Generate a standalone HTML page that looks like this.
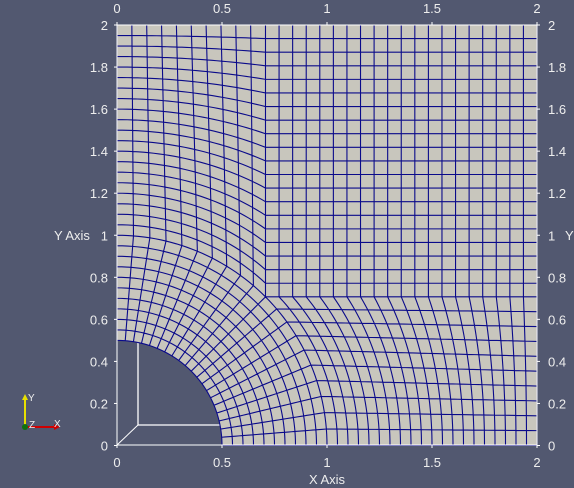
<!DOCTYPE html>
<html><head><meta charset="utf-8"><style>
html,body{margin:0;padding:0;background:#525870;width:574px;height:488px;overflow:hidden}
svg{display:block}
text{font-family:"Liberation Sans",sans-serif;font-size:13px;fill:#eeeeee}
</style></head><body>
<svg id="c" width="574" height="488">
<g id="back">
<polyline points="138,338 138,425 222,425" fill="none" stroke="#fff" stroke-width="1.3"/>
<line x1="117" y1="445" x2="138" y2="425" stroke="#fff" stroke-width="1"/>
</g>
<path id="plate" fill="#c8c6bd"/>
<g id="mesh" fill="none" stroke="#0a0a8a" stroke-width="1.1"></g>
<rect x="117" y="25" width="420" height="420" fill="none" stroke="#fff" stroke-width="1"/>
<g id="ticks" stroke="#fff" stroke-width="1"></g>
<g id="labels"></g>
<text x="327" y="484" text-anchor="middle">X Axis</text>
<text x="54" y="240">Y Axis</text>
<text x="565" y="240">Y</text>
<g>
<line x1="25" y1="427" x2="25" y2="398" stroke="#e8e000" stroke-width="2"/>
<polygon points="22,400 28,400 25,394" fill="#e8e000"/>
<line x1="28" y1="427" x2="56" y2="427" stroke="#d00000" stroke-width="2"/>
<polygon points="54,424 54,430 60,427" fill="#d00000"/>
<circle cx="25" cy="427" r="3" fill="#107010"/>
<text x="28" y="401" style="font-size:10px">Y</text>
<text x="29" y="428" style="font-size:10px">Z</text>
<text x="54" y="427" style="font-size:10px">X</text>
</g>
</svg>
<script>
const xTicks=[0,0.5,1,1.5,2];
const xTickLabels=["0","0.5","1","1.5","2"];
const yTicks=[0,0.2,0.4,0.6,0.8,1,1.2,1.4,1.6,1.8,2];
const yTickLabels=["0","0.2","0.4","0.6","0.8","1","1.2","1.4","1.6","1.8","2"];
const holeRadius=0.5;
const outerRadius=1;
const blockCells=[[10,10],[10,10],[20,10],[20,20],[10,20]];

const NS="http://www.w3.org/2000/svg";
const X=x=>117+210*x, Y=y=>445.5-210.25*y;
const s2=Math.SQRT1_2;
const v=[[0.5,0],[1,0],[2,0],[2,s2],[s2,s2],[holeRadius*s2,holeRadius*s2],[2,2],[s2,2],[0,2],[0,outerRadius],[0,holeRadius]];
const line=(a,b)=>t=>[a[0]+(b[0]-a[0])*t,a[1]+(b[1]-a[1])*t];
const arc=(r,a0,a1)=>t=>{const a=a0+(a1-a0)*t;return [r*Math.cos(a),r*Math.sin(a)]};
const q=Math.PI/4,h=Math.PI/2;
// blocks: corners P00,P10,P01,P11, bottom,top,left,right
const blocks=[
 [v[5],v[4],v[10],v[9], line(v[5],v[4]),line(v[10],v[9]),arc(holeRadius,q,h),arc(outerRadius,q,h)],
 [v[0],v[1],v[5],v[4], line(v[0],v[1]),line(v[5],v[4]),arc(holeRadius,0,q),arc(outerRadius,0,q)],
 [v[1],v[2],v[4],v[3], line(v[1],v[2]),line(v[4],v[3]),arc(outerRadius,0,q),line(v[2],v[3])],
 [v[4],v[3],v[7],v[6], line(v[4],v[3]),line(v[7],v[6]),line(v[4],v[7]),line(v[3],v[6])],
 [v[9],v[4],v[8],v[7], arc(outerRadius,h,q),line(v[8],v[7]),line(v[9],v[8]),line(v[4],v[7])]
];
function tfi(b,u,w){
 const [P00,P10,P01,P11,B,T,L,R]=b;const bb=B(u),tt=T(u),ll=L(w),rr=R(w);const o=[];
 for(let k=0;k<2;k++)o[k]=(1-w)*bb[k]+w*tt[k]+(1-u)*ll[k]+u*rr[k]-((1-u)*(1-w)*P00[k]+u*(1-w)*P10[k]+(1-u)*w*P01[k]+u*w*P11[k]);
 return o;
}
const mesh=document.getElementById('mesh');
let d="";
blocks.forEach((b,bi)=>{
 const [nu,nv]=blockCells[bi];const S=30;
 for(let i=0;i<=nu;i++){const u=i/nu;for(let s=0;s<=S;s++){const p=tfi(b,u,s/S);d+=(s?"L":"M")+X(p[0]).toFixed(2)+" "+Y(p[1]).toFixed(2);}}
 for(let j=0;j<=nv;j++){const w=j/nv;for(let s=0;s<=S;s++){const p=tfi(b,s/S,w);d+=(s?"L":"M")+X(p[0]).toFixed(2)+" "+Y(p[1]).toFixed(2);}}
});
const mp=document.createElementNS(NS,'path');mp.setAttribute('d',d);


mesh.appendChild(mp);
// plate
const rpx=X(holeRadius)-X(0);
document.getElementById('plate').setAttribute('d',`M${X(holeRadius)} ${Y(0)} L${X(2)} ${Y(0)} L${X(2)} ${Y(2)} L${X(0)} ${Y(2)} L${X(0)} ${Y(holeRadius)} A${rpx} ${Y(0)-Y(holeRadius)} 0 0 1 ${X(holeRadius)} ${Y(0)} Z`);
const tk=document.getElementById('ticks'),lb=document.getElementById('labels');
function addText(x,y,s,anchor,name){const t=document.createElementNS(NS,'text');t.setAttribute('x',x);t.setAttribute('y',y);t.setAttribute('text-anchor',anchor);t.textContent=s;


lb.appendChild(t);}
function addTick(x1,y1,x2,y2){const l=document.createElementNS(NS,'line');l.setAttribute('x1',x1);l.setAttribute('y1',y1);l.setAttribute('x2',x2);l.setAttribute('y2',y2);


tk.appendChild(l);}
xTicks.forEach((x,i)=>{addText(X(x),13,xTickLabels[i],'middle','x-tick-label-top');addText(X(x),467,xTickLabels[i],'middle','x-tick-label-bottom');addTick(X(x),25,X(x),22);addTick(X(x),445,X(x),448);});
yTicks.forEach((y,i)=>{addText(108,Y(y)+5,yTickLabels[i],'end','y-tick-label-left');addText(548,Y(y)+5,yTickLabels[i],'start','y-tick-label-right');addTick(117,Y(y),114,Y(y));addTick(537,Y(y),540,Y(y));});
</script>
</body></html>
